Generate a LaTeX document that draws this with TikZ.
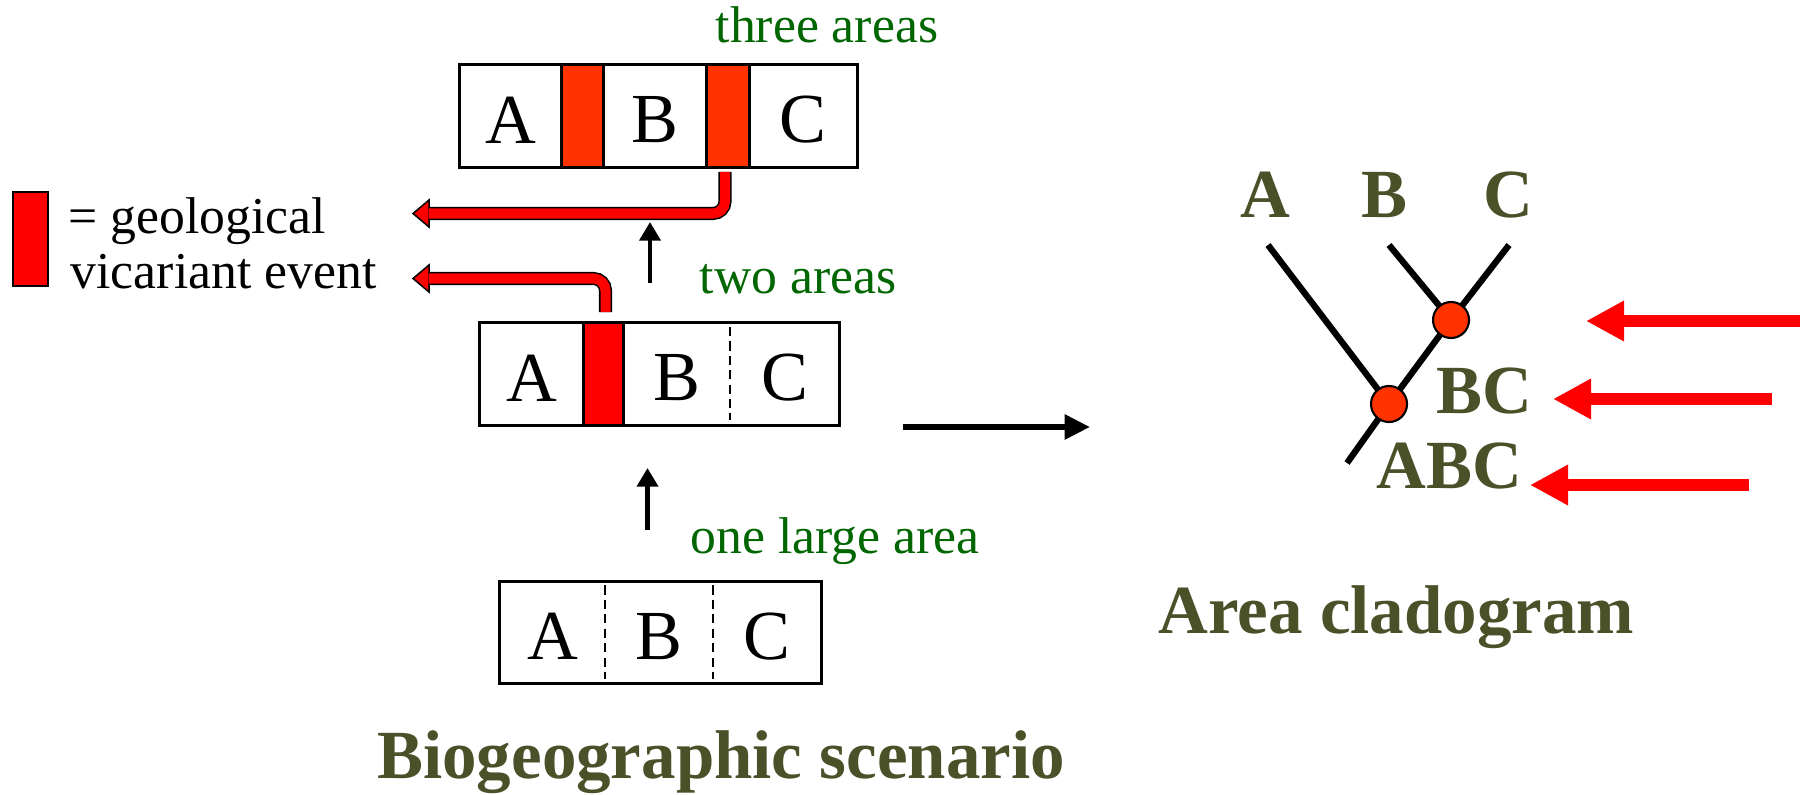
\documentclass[tikz,border=0pt]{standalone}
\usepackage{fontspec}
\setmainfont{Liberation Serif}
\usetikzlibrary{positioning,arrows.meta}

\definecolor{vicred}{RGB}{255,0,0}
\definecolor{barred}{RGB}{255,51,0}
\definecolor{areagreen}{RGB}{0,102,0}
\definecolor{cladeolive}{RGB}{74,80,40}

\tikzset{
    areacell/.style={inner sep=0pt, outer sep=0pt, minimum height=1.02cm,
        text height=0.54cm, font=\fontsize{20}{24}\selectfont},
    cell/.style={areacell, draw, line width=0.85pt},
    boxline/.style={line width=0.85pt},
    divider/.style={line width=0.7pt, dash pattern=on 2.6pt off 1.5pt,
        shorten <=0.04cm, shorten >=0.05cm},
    arealabel/.style={inner sep=0pt, text=areagreen, font=\fontsize{14.7}{17}\selectfont},
    legendtext/.style={inner sep=0pt, font=\fontsize{14.7}{17}\selectfont},
    cladelabel/.style={inner sep=0pt, text=cladeolive, font=\fontsize{19.6}{23}\selectfont\bfseries},
    uparrow/.style={line width=1.3pt, -{Triangle[length=5.3pt, width=5.9pt]}},
    toclade/.style={line width=1.7pt, -{Triangle[length=7.2pt, width=6.8pt]}},
    vicshaft/.style={double=vicred, double distance=2.85pt, line width=0.43pt,
        rounded corners=0.12cm, shorten >=0.155cm},
    vichead/.style={fill=vicred, draw=black, line width=0.43pt},
    branch/.style={line width=1.8pt},
    junction/.style={circle, draw, fill=barred, line width=0.6pt, minimum size=0.36cm, inner sep=0pt},
    eventarrow/.style={draw=vicred, line width=3.4pt, -{Triangle[length=10.8pt, width=10.8pt]}}
}

\begin{document}
\begin{tikzpicture}[x=0.01cm, y=-0.01cm]
        \useasboundingbox (0,0) rectangle (1807,794);

        % trzy obszary
        \node[cell, minimum width=1.01cm] (tA) at (510.5,116) {A};
        \node[cell, fill=barred, minimum width=0.42cm, right=0pt of tA] (tBar1) {};
        \node[cell, minimum width=1.03cm, right=0pt of tBar1] (tB) {B};
        \node[cell, fill=barred, minimum width=0.43cm, right=0pt of tB] (tBar2) {};
        \node[cell, minimum width=1.08cm, right=0pt of tBar2] (tC) {C};
        \node[arealabel, anchor=base west] (lblThree) at (715,43) {three areas};

        % dwa obszary
        \node[cell, minimum width=1.03cm] (mA) at (531.5,374) {A};
        \node[cell, fill=vicred, minimum width=0.40cm, right=0pt of mA] (mBar) {};
        \node[areacell, minimum width=1.07cm, right=0pt of mBar] (mB) {B};
        \node[areacell, minimum width=1.09cm, right=0pt of mB] (mC) {C};
        \draw[boxline] (mBar.north east) rectangle (mC.south east);
        \draw[divider] (mB.north east) -- (mB.south east);
        \node[arealabel, anchor=base west] (lblTwo) at (699,293) {two areas};

        % jeden duzy obszar
        \node[areacell, minimum width=1.05cm] (bA) at (552.5,632.5) {A};
        \node[areacell, minimum width=1.08cm, right=0pt of bA] (bB) {B};
        \node[areacell, minimum width=1.08cm, right=0pt of bB] (bC) {C};
        \draw[boxline] (bA.north west) rectangle (bC.south east);
        \draw[divider] (bA.north east) -- (bA.south east);
        \draw[divider] (bB.north east) -- (bB.south east);
        \node[arealabel, anchor=base west] (lblOne) at (690,553) {one large area};

        % strzalki w gore
        \coordinate (upLowS) at (647.5,530);
        \coordinate (upLowE) at (647.5,468);
        \draw[uparrow] (upLowS) -- (upLowE);
        \coordinate (upTopS) at (650,283);
        \coordinate (upTopE) at (650,222);
        \draw[uparrow] (upTopS) -- (upTopE);

        % legenda
        \node[draw, fill=vicred, line width=0.6pt, minimum width=0.35cm, minimum height=0.94cm,
            inner sep=0pt] (legBar) at (30.5,239) {};
        \node[legendtext, anchor=base west] (legTop) at (68,233) {= geological};
        \node[legendtext, anchor=base west] (legBot) at (70,288) {vicariant event};

        % zagiete czerwone strzalki
        \coordinate (srcU) at (725,172);
        \coordinate (tipU) at (413,213.5);
        \filldraw[vichead] (tipU) -- ++(16,-13.5) -- ++(0,27) -- cycle;
        \draw[vicshaft] (srcU) |- (tipU);
        \coordinate (srcL) at (605.5,312);
        \coordinate (tipL) at (413,278.5);
        \filldraw[vichead] (tipL) -- ++(16,-13.5) -- ++(0,27) -- cycle;
        \draw[vicshaft] (srcL) |- (tipL);

        \node[cladelabel, anchor=base] (titleScen) at (721,778) {Biogeographic scenario};

        % przejscie do kladogramu
        \coordinate (goS) at (903,427);
        \coordinate (goE) at (1090,427);
        \draw[toclade] (goS) -- (goE);

        % kladogram
        \coordinate (tipA) at (1268,245);
        \coordinate (tipB) at (1389,245);
        \coordinate (tipC) at (1509,245);
        \coordinate (jBC) at (1451,320);
        \coordinate (jABC) at (1389,404);
        \coordinate (rootE) at (1347,463);
        \draw[branch] (tipA) -- (jABC);
        \draw[branch] (tipB) -- (jBC);
        \draw[branch] (tipC) -- (jBC) -- (jABC) -- (rootE);
        \node[junction] (nBC) at (jBC) {};
        \node[junction] (nABC) at (jABC) {};

        \node[cladelabel, anchor=base] (labA) at (1265,217) {A};
        \node[cladelabel, anchor=base] (labB) at (1384,217) {B};
        \node[cladelabel, anchor=base] (labC) at (1508,217) {C};
        \node[cladelabel, anchor=base] (labBC) at (1484.5,413) {BC};
        \node[cladelabel, anchor=base] (labABC) at (1449.5,488) {ABC};
        \node[cladelabel, anchor=base] (titleClad) at (1396.5,633) {Area cladogram};

        % zdarzenia wikariancji
        \coordinate (evOneS) at (1800,321);
        \coordinate (evOneE) at (1586,321);
        \draw[eventarrow] (evOneS) -- (evOneE);
        \coordinate (evTwoS) at (1772,399);
        \coordinate (evTwoE) at (1553,399);
        \draw[eventarrow] (evTwoS) -- (evTwoE);
        \coordinate (evThreeS) at (1749,485);
        \coordinate (evThreeE) at (1530,485);
        \draw[eventarrow] (evThreeS) -- (evThreeE);
\end{tikzpicture}
\end{document}
